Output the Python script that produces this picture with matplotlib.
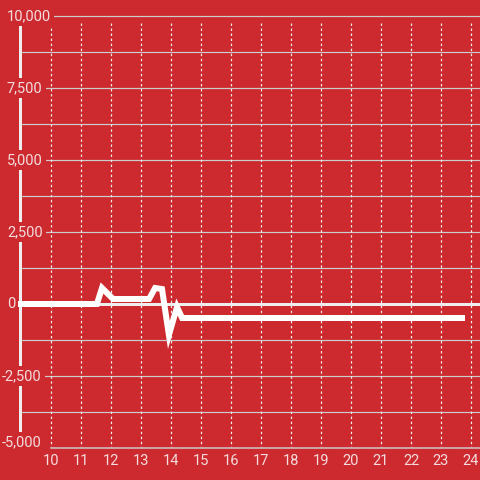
import matplotlib
matplotlib.use("Agg")
import matplotlib.pyplot as plt

# 数据: 时刻(小时) 与 数值
hours = [8.87, 11.53, 11.70, 12.07, 13.27, 13.47, 13.70, 13.93, 14.20, 14.37, 23.80]
values = [0, 0, 556, 174, 174, 556, 520, -1076, -104, -486, -486]

x_ticks = list(range(10, 25))
y_ticks = [10000, 7500, 5000, 2500, 0, -2500, -5000]
y_grid = [10000 - 1250 * i for i in range(12)]  # -5000 由 x 轴线代替

BG = '#cd2a2f'
TXT = '#f3dcdd'

plt.rcParams['font.family'] = ['Roboto', 'DejaVu Sans']


# 像素坐标 -> 数据坐标
def px_x(px):
    return 10 + (px - 51) / 30


def px_y(py):
    return 10000 - (py - 16) * 1250 / 36


fig = plt.figure(figsize=(4.8, 4.8), dpi=100, facecolor=BG)
ax = fig.add_axes([0, 0, 1, 1])
ax.set_facecolor(BG)
ax.set_xlim(px_x(0), px_x(480))
ax.set_ylim(px_y(480), px_y(0))
ax.axis('off')

pt = 0.72  # 1 像素 = 0.72 pt

# 水平网格
for gy in y_grid:
    if gy == 0:
        ax.plot([px_x(22), px_x(480)], [gy, gy], color='#eeeeee', lw=3 * pt, zorder=1)
    else:
        ax.plot([px_x(22), px_x(480)], [gy, gy], color='#cccccc', lw=1.2 * pt, zorder=1)

# 竖直虚线网格
for gx in x_ticks:
    ax.plot([gx, gx], [px_y(23), px_y(447)], color='#eeeeee', lw=1.2 * pt,
            dashes=[2, 2.2], zorder=1)

# x 轴线
ax.plot([10, px_x(480)], [-5000, -5000], color='#cccccc', lw=1.5 * pt, zorder=1)

# y 轴线
ax.plot([px_x(20.5), px_x(20.5)], [px_y(24), px_y(437)], color='#eeeeee', lw=3 * pt, zorder=2)

# 数据线
ax.plot(hours, values, color='white', lw=6 * pt, solid_joinstyle='miter',
        solid_capstyle='butt', zorder=3)

# y 刻度标签
for v in y_ticks:
    lx = px_x(2) if v < 0 else px_x(7)
    ly = v if v != -5000 else px_y(442)
    ax.text(lx, ly, f"{v:,}", color=TXT, fontsize=10.5, ha='left', va='center',
            zorder=5, bbox=dict(boxstyle='square,pad=0.2', fc=BG, ec='none'))

# x 刻度标签
for v in x_ticks:
    ax.text(v, px_y(461), str(v), color=TXT, fontsize=10.5, ha='center', va='center', zorder=5)

fig.savefig('out.png', dpi=100, facecolor=BG)
